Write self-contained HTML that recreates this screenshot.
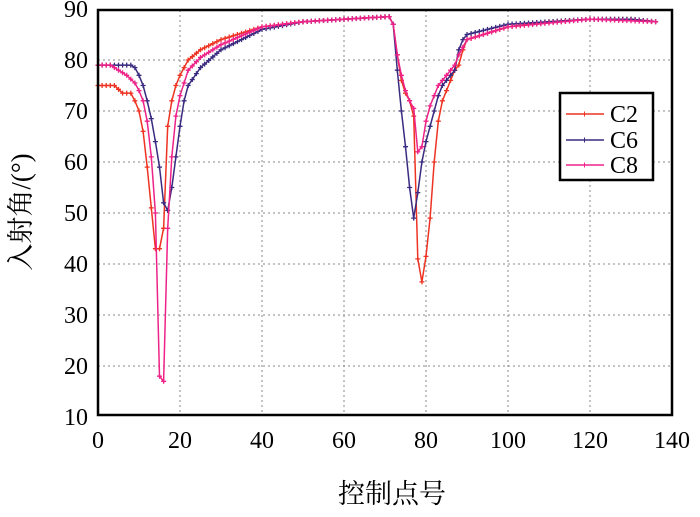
<!DOCTYPE html>
<html><head><meta charset="utf-8"><style>
body{margin:0;background:#fff;width:700px;height:512px;overflow:hidden}
svg text{font-family:"Liberation Serif","Times New Roman","DejaVu Serif","Noto Serif CJK SC",serif}
</style></head><body>
<svg id="s" width="700" height="512" xmlns="http://www.w3.org/2000/svg"></svg>
<script>
const s=document.getElementById('s');
const X=v=>98+v*4.1, Y=v=>9+(90-v)*5.1;
let h='';
for(let i=1;i<7;i++){h+=`<line x1="${X(i*20)}" y1="10" x2="${X(i*20)}" y2="415" stroke="#888" stroke-dasharray="2,3"/>`;}
for(let v=20;v<=80;v+=10){h+=`<line x1="98" y1="${Y(v)}" x2="672" y2="${Y(v)}" stroke="#888" stroke-dasharray="2,3"/>`;}
for(let v=10;v<=90;v+=10)h+=`<text x="88" y="${Y(v)+8}" font-size="24" text-anchor="end">${v}</text>`;
for(let v=0;v<=140;v+=20)h+=`<text x="${X(v)}" y="448" font-size="24" text-anchor="middle">${v}</text>`;
h+=`<text x="392" y="503" font-size="27" text-anchor="middle">控制点号</text>`;
h+=`<text transform="translate(30,212) rotate(-90)" font-size="27" text-anchor="middle">入射角/(°)</text>`;
const D={
'#ee3322':[[0,75],[4,75],[6,73.5],[8,73.5],[9,72],[10,70],[11,66],[12,59],[13,51],[14,43],[15,43],[16,47],[17,67],[18,72],[19,75],[20,77],[22,80],[25,82],[30,84],[40,86.5],[50,87.5],[60,88],[71,88.5],[72,87],[73,81],[74,76],[75,73.5],[76,72],[77,69],[78,41],[79,36.5],[80,41.5],[81,49],[82,60],[83,68],[84,72],[85,74],[86,76],[87,78],[88,79],[89,82],[90,84],[100,86.5],[110,87.5],[120,88],[130,88],[136,87.5]],
'#3a2a80':[[0,79],[8,79],[9,78.5],[10,77],[11,75],[12,72],[13,68.5],[14,64],[15,59],[16,52],[17,50.5],[18,55],[19,61],[20,67],[21,72],[22,75],[25,78.5],[30,82],[40,86],[50,87.5],[60,88],[71,88.5],[72,87],[73,78],[74,70],[75,63],[76,55],[77,49],[78,54],[79,60],[80,64],[81,67],[82,70],[83,73],[84,75],[85,76],[86,77],[87,78],[88,82],[89,84],[90,85],[100,87],[110,87.5],[120,88],[130,88],[136,87.5]],
'#ee2288':[[0,79],[3,79],[5,78],[7,77],[9,75.5],[10,74],[11,72],[12,68],[13,61],[14,50],[15,18],[16,17],[17,47],[18,61],[19,69],[20,73],[22,78],[25,80.5],[30,83],[40,86.5],[50,87.5],[60,88],[71,88.5],[72,87],[73,81],[74,77],[75,74],[76,72],[77,70.5],[78,62],[79,63],[80,68],[81,71],[82,73],[83,75],[84,76],[85,77],[86,78],[87,79],[88,81],[90,84],[100,86.5],[120,88],[136,87.5]]};
for(const c in D){const k=D[c];let pts=[];
 for(let x=0;x<=136;x++){let j=0;while(j<k.length-1&&k[j+1][0]<x)j++;const a=k[j],b=k[Math.min(j+1,k.length-1)];const t=b[0]==a[0]?0:(x-a[0])/(b[0]-a[0]);pts.push([X(x),Y(a[1]+(b[1]-a[1])*Math.max(0,Math.min(1,t)))]);}
 h+=`<polyline fill="none" stroke="${c}" stroke-width="1.5" points="${pts.map(p=>p.join(',')).join(' ')}"/>`;
 let m='';pts.forEach(p=>{m+=`M${p[0]-2.5},${p[1]}h5M${p[0]},${p[1]-2.5}v5`});
 h+=`<path d="${m}" stroke="${c}" stroke-width="1.3"/>`;}
h+=`<rect x="98" y="10" width="574" height="405" fill="none" stroke="#000" stroke-width="2.5"/>`;
h+=`<rect x="560" y="93" width="93" height="87" fill="#fff" stroke="#000" stroke-width="2.5"/>`;
[['#ee3322','C2',114],['#3a2a80','C6',140],['#ee2288','C8',165]].forEach(([c,t,y])=>{h+=`<line x1="566" y1="${y}" x2="604" y2="${y}" stroke="${c}" stroke-width="1.5"/><path d="M582,${y}h5M584.5,${y-2.5}v5" stroke="${c}"/><text x="610" y="${y+8}" font-size="24">${t}</text>`;});
s.innerHTML=h;
</script>
</body></html>
